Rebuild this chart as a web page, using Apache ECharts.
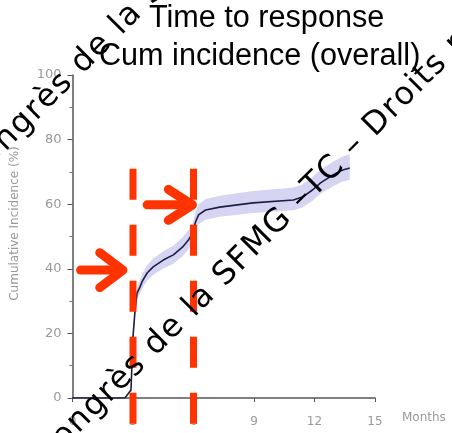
<!DOCTYPE html>
<html>
<head>
<meta charset="utf-8">
<script src="https://cdn.jsdelivr.net/npm/echarts@6/dist/echarts.min.js"></script>
<style>
html, body { margin: 0; padding: 0; background: #fff; }
#main { width: 452px; height: 433px; }
</style>
</head>
<body>
<div id="main"></div>
<script>
// courbe d'incidence cumulée (mois / %)
var months    = [0, 2.6, 2.9, 3.0, 3.1, 3.2, 3.35, 3.45, 3.7, 4.0, 4.5, 5.0, 5.45, 5.75, 5.95, 6.1, 6.25, 6.6, 7.3, 8.95, 10.95, 11.4, 11.9, 12.3, 12.9, 13.1, 13.4, 13.75];
var incidence = [0, 0, 2.5, 19, 27, 32.5, 34.4, 36, 38.7, 40.6, 42.7, 44.3, 46.7, 48.9, 51.1, 54.5, 56.7, 58.2, 59.1, 60.4, 61.3, 62.2, 64.4, 66.6, 69, 69.7, 70.6, 71.2];
var ciLower   = [0, 0, 2, 17, 25, 30.5, 32.3, 33.8, 36.3, 38.1, 40.1, 41.6, 43.9, 46, 48.2, 51.6, 53.8, 55.2, 56.1, 57.3, 58.1, 59, 61.1, 63.2, 65.5, 66.1, 67, 67.6];
var ciUpper   = [0, 0, 3, 21, 29, 34.6, 36.6, 38.3, 41.1, 43.2, 45.4, 47.1, 49.7, 52, 54.2, 57.6, 59.9, 61.6, 62.6, 64.1, 65.2, 66.1, 68.4, 70.7, 73.1, 73.8, 74.8, 75.5];

var xTicks = [0, 3, 6, 9, 12, 15];
var yTicks = [0, 20, 40, 60, 80, 100];

// annotations rouges
var guideMonths = [3, 6];
var guideRange = [71, -8];
var arrowShafts = [
    [[0.4, 39.6], [2.45, 39.6]],
    [[3.7, 59.8], [5.9, 59.8]]
];
var arrowHeads = [
    [[1.35, 45], [2.5, 39.6], [1.35, 34.2]],
    [[4.75, 64.6], [5.95, 59.8], [4.75, 55]]
];

// filigrane
var wmText = 'Congrès de la SFMG –TC – Droits réservés';

var myChart = echarts.init(document.getElementById('main'));

function toPairs(xs, ys) {
    var out = [];
    for (var i = 0; i < xs.length; i++) out.push([xs[i], ys[i]]);
    return out;
}

var red = '#ff3300';
var series = [];

// bande de confiance
series.push({
    type: 'custom', data: [[0, 0]], silent: true, z: 1,
    encode: { x: 0, y: 1 },
    renderItem: function (params, api) {
        var pts = [];
        for (var i = 0; i < months.length; i++) pts.push(api.coord([months[i], ciUpper[i]]));
        for (var j = months.length - 1; j >= 0; j--) pts.push(api.coord([months[j], ciLower[j]]));
        return { type: 'polygon', shape: { points: pts }, style: { fill: '#d5d5f3' } };
    }
});
series.push({
    type: 'line', data: toPairs(months, incidence),
    showSymbol: false, lineStyle: { color: '#1e1e44', width: 1.6 }, z: 3
});

guideMonths.forEach(function (m) {
    series.push({
        type: 'line', data: [[m, guideRange[0]], [m, guideRange[1]]],
        showSymbol: false, clip: false, silent: true, z: 5,
        lineStyle: { color: red, width: 7, type: [31, 25], cap: 'butt' }
    });
});
arrowShafts.concat(arrowHeads).forEach(function (pts) {
    series.push({
        type: 'line', data: pts, showSymbol: false, clip: false, silent: true, z: 5,
        lineStyle: { color: red, width: 9, cap: 'round', join: 'round' }
    });
});

// filigrane : lettre par lettre, espacement élargi, à 45°
var wmFont = '32px "DejaVu Sans"';
var ctx = document.createElement('canvas').getContext('2d');
ctx.font = wmFont;
var graphics = [];
[{ x0: 47, y0: 466 }, { x0: -26, y0: 184 }].forEach(function (ln) {
    var along = 0;
    for (var i = 0; i < wmText.length; i++) {
        var ch = wmText.charAt(i);
        var d = along / Math.SQRT2;
        if (ch !== ' ') {
            graphics.push({
                type: 'text', x: ln.x0 + d + 5, y: ln.y0 - d + 5, rotation: Math.PI / 4, z: 100,
                style: {
                    text: ch, fill: '#000', font: wmFont,
                    align: 'left', verticalAlign: 'bottom'
                }
            });
        }
        along += ctx.measureText(ch).width + 1.5;
    }
});

var labelStyle = { color: '#999', fontSize: 12, fontFamily: 'DejaVu Sans' };
var titleStyle = { fontSize: 30.6, fontWeight: 'normal', fontFamily: 'Liberation Sans', color: '#000' };

var option = {
    animation: false,
    title: [
        { text: 'Time to response', left: 149, top: 3, padding: 0, textStyle: titleStyle },
        { text: 'Cum incidence (overall)', left: 99, top: 41, padding: 0, textStyle: titleStyle }
    ],
    grid: { left: 72.5, right: 77, top: 75, bottom: 35 },
    xAxis: {
        type: 'value', min: xTicks[0], max: xTicks[xTicks.length - 1], interval: 3, offset: 5,
        name: 'Months', nameLocation: 'end', nameGap: 27,
        nameTextStyle: { color: '#999', fontSize: 12, fontFamily: 'DejaVu Sans', verticalAlign: 'top', padding: [14, 0, 0, 0] },
        axisLine: { lineStyle: { color: '#555', width: 1.5 } },
        axisTick: { length: 4, lineStyle: { color: '#555' } },
        axisLabel: Object.assign({ margin: 13 }, labelStyle),
        splitLine: { show: false }
    },
    yAxis: {
        type: 'value', min: yTicks[0], max: yTicks[yTicks.length - 1], interval: 20, offset: 4,
        name: 'Cumulative Incidence (%)', nameLocation: 'middle', nameGap: 48,
        nameTextStyle: { color: '#999', fontSize: 12, fontFamily: 'DejaVu Sans', padding: [0, 0, 0, 26] },
        axisLine: { show: true, lineStyle: { color: '#555', width: 1.5 } },
        axisTick: { show: true, length: 5, lineStyle: { color: '#555' } },
        minorTick: { show: true, splitNumber: 2, length: 3, lineStyle: { color: '#777' } },
        axisLabel: Object.assign({ margin: 7 }, labelStyle, { fontSize: 13 }),
        splitLine: { show: false }
    },
    series: series,
    graphic: graphics
};
myChart.setOption(option);
</script>
</body>
</html>
